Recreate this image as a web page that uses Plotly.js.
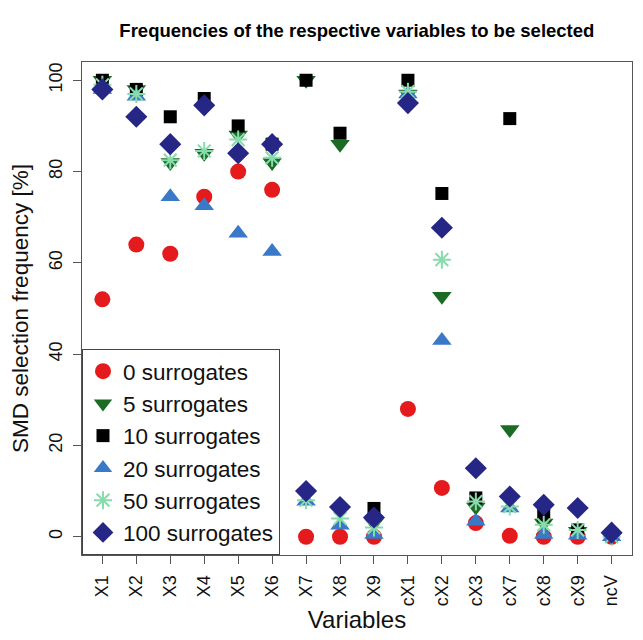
<!DOCTYPE html>
<html><head><meta charset="utf-8">
<script src="https://cdn.plot.ly/plotly-3.0.1.min.js"></script>
<style>body{margin:0;background:#fff}#c{width:643px;height:640px}</style>
</head><body><div id="c"></div>
<script>
const categories = ["X1","X2","X3","X4","X5","X6","X7","X8","X9","cX1","cX2","cX3","cX7","cX8","cX9","ncV"];
const seriesNames = ["0 surrogates","5 surrogates","10 surrogates","20 surrogates","50 surrogates","100 surrogates"];
const s0   = [52, 64, 62, 74.5, 80, 76, 0, 0, 0, 28, 10.7, 3, 0.2, 0, 0, 0];
const s5   = [100, 98, 82, 84, 88, 82, 100, 86, 3, 97, 52.7, 6.5, 23.5, 3, 1.2, 0];
const s10  = [100, 98, 92, 96, 90, 86, 100, 88.4, 6.2, 100, 75.2, 8.5, 91.6, 4.8, 1.5, 0.5];
const s20  = [98, 96.5, 74.5, 72.5, 66.5, 62.5, 7.8, 2.5, 0.5, 97, 43, 3.4, 6.3, 0.5, 0.3, 0];
const s50  = [99, 97, 82.5, 84.5, 87, 83, 8, 4, 2, 97.5, 60.7, 7.7, 6.6, 2.6, 1.5, 0];
const s100 = [98, 92, 86, 94.5, 84, 86, 10, 6.5, 4.2, 95, 67.7, 15, 8.8, 7, 6.3, 0.9];

const xs = categories.map((_, i) => i + 1);
const styles = [
  {symbol: "circle", color: "#e41a1c", size: 16},
  {symbol: "triangle-down", color: "#1b6b24", size: 17},
  {symbol: "square", color: "#000000", size: 13},
  {symbol: "triangle-up", color: "#3a78c8", size: 17},
  {symbol: "asterisk-open", color: "#86dcaa", size: 15},
  {symbol: "diamond", color: "#262686", size: 17}
];
const data = [s0, s5, s10, s20, s50, s100].map((ys, k) => ({
  type: "scatter", mode: "markers", x: xs, y: ys, name: seriesNames[k],
  marker: {symbol: styles[k].symbol, size: styles[k].size, color: styles[k].color,
           line: {width: styles[k].symbol === "asterisk-open" ? 2 : 0, color: styles[k].color}}
}));

const font = "Liberation Sans, Arial, sans-serif";
const layout = {
  width: 643, height: 640,
  margin: {l: 82, r: 11, t: 62, b: 85},
  paper_bgcolor: "#fff", plot_bgcolor: "#fff",
  font: {family: font, color: "#111", size: 17},
  title: {text: "<b>Frequencies of the respective variables to be selected</b>",
          font: {family: font, size: 18.5, color: "#000"}, x: 0.555, xanchor: "center", y: 0.952, yanchor: "middle"},
  showlegend: true,
  legend: {x: 0, y: 0, xanchor: "left", yanchor: "bottom", bgcolor: "#fff",
           bordercolor: "#444", borderwidth: 1, font: {family: font, size: 22.5, color: "#111"},
           tracegroupgap: 0, itemwidth: 30},
  xaxis: {range: [0.4, 16.6], tickvals: xs, ticktext: categories, tickangle: -90,
          showgrid: false, zeroline: false, showline: true, mirror: true, linecolor: "#555", linewidth: 1,
          ticks: "outside", ticklen: 8, tickcolor: "#555", tickfont: {size: 18}, ticklabelstandoff: 4,
          title: {text: "Variables", font: {size: 24}, standoff: 2}},
  yaxis: {range: [-4, 104], tickvals: [0,20,40,60,80,100], tickangle: -90,
          showgrid: false, zeroline: false, showline: true, mirror: true, linecolor: "#555", linewidth: 1,
          ticks: "outside", ticklen: 8, tickcolor: "#555", tickfont: {size: 18}, ticklabelstandoff: 4,
          title: {text: "SMD selection frequency [%]", font: {size: 22.5}, standoff: 10}}
};
Plotly.newPlot("c", data, layout, {displayModeBar: false, staticPlot: true});
</script></body></html>
